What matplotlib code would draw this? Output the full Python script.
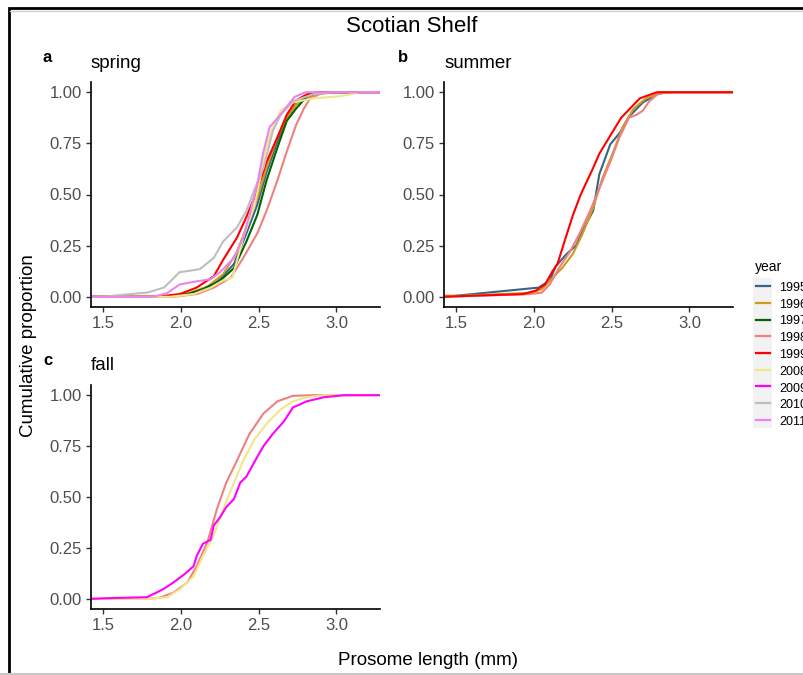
import numpy as np
import matplotlib
matplotlib.use("Agg")
import matplotlib.pyplot as plt
from matplotlib.patches import Rectangle
from matplotlib.lines import Line2D

plt.rcParams['font.family'] = ['Liberation Sans', 'DejaVu Sans']

# years and colours
years = [1995, 1996, 1997, 1998, 1999, 2008, 2009, 2010, 2011]
colors = ['#36648B', '#CD9B1D', '#006400', '#F08080', '#FF0000',
          '#F0E68C', '#FF00FF', '#BEBEBE', '#EE82EE']

# spring curves (prosome length mm, cumulative proportion)
spring_1995 = ([1.89, 2.06, 2.17, 2.25, 2.34, 2.42, 2.49, 2.55, 2.62, 2.68, 2.74, 2.83, 2.89],
               [0.0, 0.015, 0.04, 0.086, 0.16, 0.31, 0.45, 0.61, 0.76, 0.875, 0.94, 0.99, 1.0])
spring_1996 = ([1.89, 2.06, 2.17, 2.27, 2.36, 2.42, 2.49, 2.55, 2.62, 2.68, 2.74, 2.81, 2.89],
               [0.0, 0.02, 0.05, 0.11, 0.22, 0.34, 0.48, 0.63, 0.78, 0.875, 0.94, 0.97, 1.0])
spring_1997 = ([1.89, 2.04, 2.14, 2.25, 2.34, 2.42, 2.49, 2.55, 2.62, 2.68, 2.74, 2.81, 2.89],
               [0.0, 0.013, 0.037, 0.078, 0.14, 0.27, 0.40, 0.57, 0.73, 0.86, 0.92, 0.98, 1.0])
spring_1998 = ([1.95, 2.10, 2.21, 2.32, 2.40, 2.49, 2.55, 2.62, 2.68, 2.74, 2.79, 2.83, 2.89, 2.98],
               [0.0, 0.013, 0.045, 0.094, 0.19, 0.31, 0.42, 0.57, 0.71, 0.84, 0.92, 0.97, 0.99, 1.0])
spring_1999 = ([1.84, 1.99, 2.10, 2.21, 2.27, 2.36, 2.42, 2.49, 2.55, 2.62, 2.68, 2.74, 2.81, 2.87],
               [0.0, 0.013, 0.045, 0.10, 0.18, 0.29, 0.39, 0.52, 0.66, 0.78, 0.89, 0.96, 0.99, 1.0])
spring_2008 = ([1.93, 2.08, 2.19, 2.27, 2.33, 2.35, 2.40, 2.47, 2.51, 2.54, 2.58, 2.64, 2.72, 2.85, 3.02, 3.09, 3.15],
               [0.0, 0.013, 0.045, 0.08, 0.094, 0.15, 0.29, 0.44, 0.58, 0.71, 0.81, 0.91, 0.95, 0.97, 0.98, 0.99, 1.0])
spring_2010 = ([1.50, 1.56, 1.67, 1.78, 1.89, 1.99, 2.12, 2.21, 2.27, 2.36, 2.42, 2.47, 2.53, 2.59, 2.64, 2.72, 2.85, 2.98],
               [0.0, 0.005, 0.013, 0.02, 0.045, 0.12, 0.135, 0.19, 0.27, 0.34, 0.42, 0.52, 0.63, 0.81, 0.89, 0.956, 0.99, 1.0])
spring_2011 = ([1.82, 1.91, 1.99, 2.08, 2.19, 2.25, 2.34, 2.40, 2.44, 2.49, 2.53, 2.57, 2.64, 2.73, 2.80],
               [0.0, 0.018, 0.06, 0.073, 0.086, 0.12, 0.19, 0.29, 0.40, 0.55, 0.71, 0.83, 0.89, 0.977, 1.0])

# summer curves
summer_1995 = ([1.43, 2.03, 2.10, 2.14, 2.21, 2.27, 2.33, 2.38, 2.42, 2.49, 2.55, 2.61, 2.70, 2.79, 2.85],
               [0.0, 0.045, 0.08, 0.15, 0.21, 0.25, 0.35, 0.42, 0.60, 0.745, 0.80, 0.88, 0.95, 0.99, 1.0])
summer_1996 = ([1.54, 1.99, 2.05, 2.12, 2.18, 2.25, 2.31, 2.38, 2.44, 2.51, 2.57, 2.64, 2.72, 2.81, 2.92],
               [0.005, 0.02, 0.037, 0.094, 0.14, 0.21, 0.305, 0.435, 0.58, 0.71, 0.83, 0.92, 0.97, 0.995, 1.0])
summer_1998 = ([1.43, 1.97, 2.05, 2.10, 2.16, 2.23, 2.29, 2.36, 2.42, 2.49, 2.55, 2.61, 2.66, 2.70, 2.74, 2.81],
               [0.0, 0.013, 0.02, 0.06, 0.14, 0.22, 0.305, 0.42, 0.53, 0.66, 0.78, 0.875, 0.89, 0.91, 0.955, 1.0])
summer_1999 = ([1.41, 1.64, 1.93, 2.01, 2.07, 2.12, 2.15, 2.19, 2.25, 2.30, 2.38, 2.42, 2.50, 2.56, 2.68, 2.79],
               [0.0, 0.006, 0.013, 0.03, 0.06, 0.127, 0.16, 0.257, 0.40, 0.50, 0.63, 0.70, 0.80, 0.875, 0.97, 1.0])

# fall curves
fall_1998 = ([1.78, 1.86, 1.95, 2.04, 2.10, 2.17, 2.23, 2.29, 2.36, 2.44, 2.53, 2.62, 2.72, 2.85],
             [0.0, 0.005, 0.03, 0.08, 0.16, 0.28, 0.44, 0.57, 0.68, 0.81, 0.91, 0.97, 0.997, 1.0])
fall_2008 = ([1.80, 1.91, 1.99, 2.08, 2.14, 2.21, 2.27, 2.34, 2.40, 2.47, 2.55, 2.64, 2.72, 2.81, 2.92],
             [0.0, 0.008, 0.046, 0.11, 0.21, 0.31, 0.44, 0.57, 0.68, 0.78, 0.86, 0.93, 0.97, 0.99, 1.0])
fall_2009 = ([1.43, 1.52, 1.78, 1.84, 1.89, 1.95, 2.02, 2.08, 2.10, 2.14, 2.19, 2.21, 2.25, 2.29, 2.34,
              2.38, 2.42, 2.47, 2.53, 2.59, 2.66, 2.72, 2.81, 2.92, 3.05],
             [0.0, 0.003, 0.008, 0.03, 0.05, 0.08, 0.12, 0.16, 0.21, 0.27, 0.29, 0.36, 0.40, 0.45, 0.49,
              0.57, 0.60, 0.67, 0.75, 0.81, 0.87, 0.94, 0.97, 0.99, 1.0])

spring = {1995: spring_1995, 1996: spring_1996, 1997: spring_1997, 1998: spring_1998,
          1999: spring_1999, 2008: spring_2008, 2010: spring_2010, 2011: spring_2011}
summer = {1995: summer_1995, 1996: summer_1996, 1998: summer_1998, 1999: summer_1999}
fall = {1998: fall_1998, 2008: fall_2008, 2009: fall_2009}

xlim = (1.42, 3.28)
ylim = (-0.05, 1.05)
W, H = 804, 675


def fx(px):
    return px / W


def fy(py):
    return 1 - py / H


def draw_panel(ax, curves):
    for yr, col in zip(years, colors):
        if yr not in curves:
            continue
        x, y = curves[yr]
        # pad ends like an ecdf out to the panel edges
        x = [xlim[0] - 0.1] + list(x) + [xlim[1] + 0.1]
        y = [y[0]] + list(y) + [y[-1]]
        ax.plot(x, y, color=col, lw=1.5)
    ax.set_xlim(xlim)
    ax.set_ylim(ylim)
    ax.set_xticks([1.5, 2.0, 2.5, 3.0])
    ax.set_xticklabels(['1.5', '2.0', '2.5', '3.0'])
    ax.set_yticks([0, 0.25, 0.5, 0.75, 1.0])
    ax.set_yticklabels(['0.00', '0.25', '0.50', '0.75', '1.00'])
    for s in ['top', 'right']:
        ax.spines[s].set_visible(False)
    for s in ['left', 'bottom']:
        ax.spines[s].set_linewidth(1.2)
        ax.spines[s].set_color('black')
    ax.tick_params(length=3.5, width=1.0, color='#333333', labelcolor='#4D4D4D',
                   labelsize=12, pad=3)


fig = plt.figure(figsize=(W / 100, H / 100), dpi=100)

pw, ph = 289, 225
axa = fig.add_axes([fx(91), fy(307), pw / W, ph / H])
axb = fig.add_axes([fx(444), fy(307), pw / W, ph / H])
axc = fig.add_axes([fx(91), fy(609), pw / W, 224 / H])
draw_panel(axa, spring)
draw_panel(axb, summer)
draw_panel(axc, fall)

# titles and tags
fig.text(fx(412), fy(32), 'Scotian Shelf', ha='center', va='baseline', fontsize=16)
for tag, tx, tagy, name, nx, ny in [('a', 43, 62, 'spring', 91, 67.5),
                                    ('b', 398, 62, 'summer', 445, 67.5),
                                    ('c', 43, 365, 'fall', 91, 370.5)]:
    fig.text(fx(tx), fy(tagy), tag, fontweight='bold', fontsize=12, va='baseline')
    fig.text(fx(nx), fy(ny), name, fontsize=13.5, va='baseline')

fig.text(fx(428), fy(665), 'Prosome length (mm)', ha='center', va='baseline', fontsize=13.5)
fig.text(fx(29), fy(346), 'Cumulative proportion', rotation=90, ha='center', va='center',
         fontsize=13.5)

# legend
lax = fig.add_axes([fx(753), fy(428), 19 / W, 150 / H])
lax.set_xlim(0, 1)
lax.set_ylim(len(years) - 0.5, -0.5)
lax.axis('off')
for i, (yr, col) in enumerate(zip(years, colors)):
    lax.add_patch(Rectangle((0, i - 0.5), 1, 1, facecolor='#F2F2F2', edgecolor='none'))
    lax.plot([0.18, 0.88], [i, i], color=col, lw=1.6)
    fig.text(fx(779), fy(288 + i * 16.75), str(yr), fontsize=9, va='center')
fig.text(fx(755), fy(267), 'year', fontsize=10, va='center')

# outer frame
fig.add_artist(Rectangle((fx(9), -0.1), 1.2, fy(8) + 0.1, transform=fig.transFigure,
                         fill=False, edgecolor='black', lw=2, clip_on=False))
fig.add_artist(Line2D([0, 1], [fy(673.5), fy(673.5)], transform=fig.transFigure,
                      color='#C8C8C8', lw=1.5))
fig.add_artist(Line2D([fx(10), 1], [fy(10.5), fy(10.5)], transform=fig.transFigure,
                      color='#D0D0D0', lw=1))

fig.savefig('out.png', dpi=100)
